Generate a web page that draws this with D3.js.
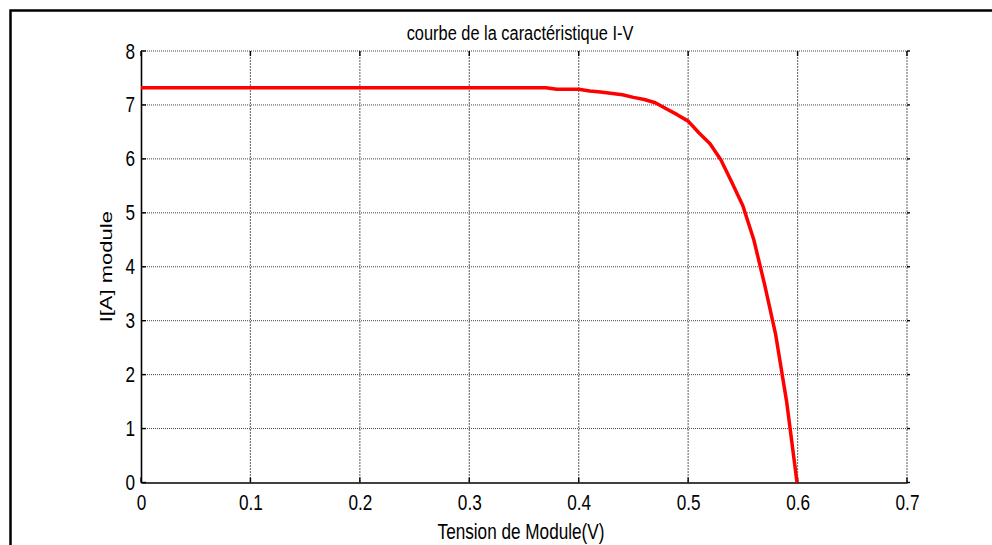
<!DOCTYPE html>
<html>
<head>
<meta charset="utf-8">
<script src="https://cdn.jsdelivr.net/npm/d3@7"></script>
<style>
  body { margin: 0; background: #fff; }
  svg { display: block; }
  text { font-family: "Liberation Sans", Arial, sans-serif; fill: #000; }
</style>
</head>
<body>
<svg width="992" height="545"></svg>
<script>
// data
var voltage = [0, 0.37, 0.38, 0.40, 0.41, 0.42, 0.44, 0.45, 0.46, 0.47, 0.48, 0.49, 0.50,
	0.51, 0.52, 0.53, 0.54, 0.55, 0.56, 0.57, 0.58, 0.59, 0.5995];
var current = [7.32, 7.32, 7.29, 7.29, 7.26, 7.24, 7.19, 7.14, 7.10, 7.04, 6.93, 6.82, 6.70,
	6.48, 6.28, 5.98, 5.56, 5.13, 4.50, 3.66, 2.74, 1.50, 0];
var xTicks = [0, 0.1, 0.2, 0.3, 0.4, 0.5, 0.6, 0.7];
var yTicks = [0, 1, 2, 3, 4, 5, 6, 7, 8];
var title = "courbe de la caractéristique I-V",
	xLabel = "Tension de Module(V)",
	yLabel = "I[A] module";

var svg = d3.select("svg"),
	mLeft = 141, mTop = 51,
	width = 766, height = 431.5,
	sx = 0.78; // text looks squeezed horizontally

// outer frame
svg.append("rect")
	.attr("x", 10.5).attr("y", 10.5)
	.attr("width", 1000).attr("height", 600)
	.attr("fill", "none").attr("stroke", "#000").attr("stroke-width", 2.5);

var xScale = d3.scaleLinear().domain([0, 0.7]).range([0, width]),
	yScale = d3.scaleLinear().domain([0, 8]).range([height, 0]);

var g = svg.append("g")
	.attr("transform", "translate(" + mLeft + "," + mTop + ")");

// grid
g.append("g")
	.selectAll("line")
	.data(yTicks.filter(d => d > 0))
	.enter().append("line")
	.attr("x1", 0).attr("x2", width)
	.attr("y1", d => yScale(d)).attr("y2", d => yScale(d))
	.attr("stroke", "#444").attr("stroke-width", 1)
	.attr("stroke-dasharray", "1,1");

g.append("g")
	.selectAll("line")
	.data(xTicks.filter(d => d > 0))
	.enter().append("line")
	.attr("x1", d => xScale(d)).attr("x2", d => xScale(d))
	.attr("y1", 0).attr("y2", height)
	.attr("stroke", "#777").attr("stroke-width", 1.2)
	.attr("stroke-dasharray", "2,1");

// axes
var xAxis = g.append("g")
	.attr("transform", "translate(0," + height + ")")
	.call(d3.axisBottom(xScale).tickValues(xTicks).tickSize(0).tickPadding(11.5)
		.tickFormat(d => String(d)));
xAxis.select(".domain").attr("stroke", "#000").attr("stroke-width", 1.6);
xAxis.selectAll("text")
	.attr("font-size", 22)
	.attr("transform", "scale(" + sx + ",1)");

var yAxis = g.append("g")
	.call(d3.axisLeft(yScale).tickValues(yTicks).tickSize(0).tickPadding(0)
		.tickFormat(d => String(d)));
yAxis.select(".domain").attr("stroke", "#000").attr("stroke-width", 1.6);
yAxis.selectAll("text")
	.attr("x", -6 / sx)
	.attr("font-size", 22)
	.attr("transform", "scale(" + sx + ",1)");

// small inward ticks, MATLAB style
g.append("g").selectAll("line")
	.data(yTicks).enter().append("line")
	.attr("x1", 0).attr("x2", 5)
	.attr("y1", d => yScale(d)).attr("y2", d => yScale(d))
	.attr("stroke", "#000").attr("stroke-width", 1.4);
g.append("g").selectAll("line")
	.data(yTicks).enter().append("line")
	.attr("x1", width).attr("x2", width + 3)
	.attr("y1", d => yScale(d)).attr("y2", d => yScale(d))
	.attr("stroke", "#000").attr("stroke-width", 1.4);
g.append("g").selectAll("line")
	.data(xTicks).enter().append("line")
	.attr("x1", d => xScale(d)).attr("x2", d => xScale(d))
	.attr("y1", height).attr("y2", height - 5)
	.attr("stroke", "#000").attr("stroke-width", 1.4);
g.append("g").selectAll("line")
	.data(xTicks).enter().append("line")
	.attr("x1", d => xScale(d)).attr("x2", d => xScale(d))
	.attr("y1", 0).attr("y2", 5)
	.attr("stroke", "#000").attr("stroke-width", 1.4);

// I-V curve
var pts = voltage.map((v, i) => [v, current[i]]);
g.append("path")
	.datum(pts)
	.attr("fill", "none")
	.attr("stroke", "#ff0000")
	.attr("stroke-width", 3.5)
	.attr("stroke-linejoin", "round")
	.attr("d", d3.line().x(d => xScale(d[0])).y(d => yScale(d[1])));

// labels
svg.append("g")
	.attr("transform", "translate(" + (mLeft + width / 2 - 4) + ",40)")
	.append("text")
	.attr("text-anchor", "middle")
	.attr("font-size", 21)
	.attr("transform", "scale(" + sx + ",1)")
	.text(title);

svg.append("g")
	.attr("transform", "translate(" + (mLeft + width / 2 - 3) + ",539)")
	.append("text")
	.attr("text-anchor", "middle")
	.attr("font-size", 22)
	.attr("transform", "scale(" + sx + ",1)")
	.text(xLabel);

svg.append("g")
	.attr("transform", "translate(112," + (mTop + height / 2) + ") scale(" + sx + ",1) rotate(-90)")
	.append("text")
	.attr("text-anchor", "middle")
	.attr("font-size", 22)
	.text(yLabel);
</script>
</body>
</html>
